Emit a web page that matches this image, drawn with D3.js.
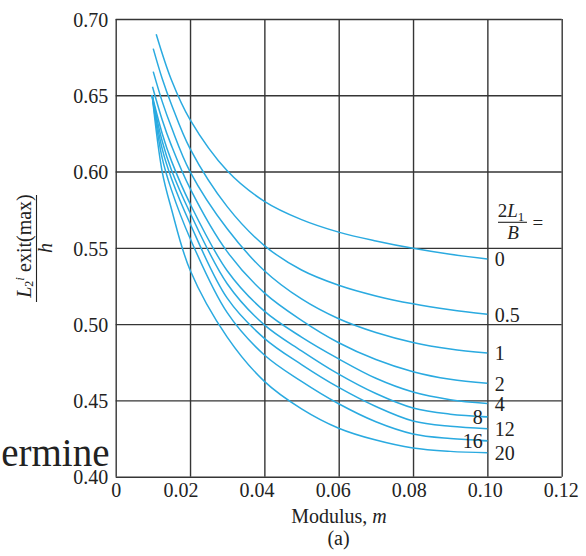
<!DOCTYPE html>
<html><head><meta charset="utf-8">
<script src="https://cdn.jsdelivr.net/npm/d3@7"></script>
<style>
body{margin:0;background:#fff}
svg{display:block}
text{font-family:"Liberation Serif","Times New Roman",serif;fill:#222}
</style>
</head><body>
<svg id="chart" width="586" height="556"></svg>
<script>
// ---- data ----
const xTicks = [0, 0.02, 0.04, 0.06, 0.08, 0.10, 0.12];
const yTicks = [0.40, 0.45, 0.50, 0.55, 0.60, 0.65, 0.70];
const seriesLabels = ["0", "0.5", "1", "2", "4", "8", "12", "16", "20"];
const startM = [0.0109, 0.0101, 0.0101, 0.0099, 0.0098, 0.0098, 0.0098, 0.0098, 0.0098];
const startY = [0.690, 0.6806, 0.6655, 0.6556, 0.650, 0.650, 0.650, 0.650, 0.650];
const mSteps = [0.0125, 0.015, 0.02, 0.03, 0.04, 0.05, 0.06, 0.07, 0.08, 0.09, 0.10];
const vals0  = [null,  0.660,  0.634,  0.6005, 0.5805, 0.5685, 0.5603, 0.5545, 0.5497, 0.5458, 0.5427];
const vals05 = [0.661, 0.644,  0.615,  0.577,  0.5515, 0.5355, 0.5255, 0.5185, 0.5133, 0.5094, 0.5064];
const vals1  = [0.646, 0.629,  0.600,  0.5625, 0.535,  0.5165, 0.5035, 0.4945, 0.4880, 0.4837, 0.481];
const vals2  = [0.634, 0.617,  0.589,  0.5475, 0.5205, 0.5025, 0.4878, 0.4768, 0.4688, 0.4638, 0.4612];
const vals4  = [0.625, 0.607,  0.579,  0.535,  0.5085, 0.4915, 0.4772, 0.4645, 0.4555, 0.4505, 0.448];
const vals8  = [0.620, 0.601,  0.573,  0.5265, 0.4995, 0.4825, 0.4672, 0.4545, 0.4450, 0.4410, 0.4393];
const vals12 = [0.615, 0.5955, 0.566,  0.517,  0.4907, 0.4735, 0.4585, 0.4460, 0.4365, 0.4330, 0.4315];
const vals16 = [0.609, 0.588,  0.5563, 0.5075, 0.4798, 0.4625, 0.4478, 0.4360, 0.4280, 0.4250, 0.4236];
const vals20 = [0.600, 0.5755, 0.5355, 0.4915, 0.4625, 0.4445, 0.4318, 0.4240, 0.4188, 0.4166, 0.4157];
const seriesVals = [vals0, vals05, vals1, vals2, vals4, vals8, vals12, vals16, vals20];
const leftLabelled = ["8", "16"];

// ---- layout ----
const L = 115.7, R = 561.7, T = 19, B = 476.7;
const FONT = 20;
const svg = d3.select("#chart");
const x = d3.scaleLinear().domain([0, 0.12]).range([L, R]);
const y = d3.scaleLinear().domain([0.40, 0.70]).range([B, T]);

// grid
const gx = svg.append("g").attr("transform", `translate(0,${B})`)
  .call(d3.axisBottom(x).tickValues(xTicks).tickSize(-(B - T)).tickFormat(""));
const gy = svg.append("g").attr("transform", `translate(${L},0)`)
  .call(d3.axisLeft(y).tickValues(yTicks).tickSize(-(R - L)).tickFormat(""));
[gx, gy].forEach(g => {
  g.select(".domain").remove();
  g.selectAll("line").attr("stroke", "#353535").attr("stroke-width", 1.4);
});

// tick labels
const xl = svg.append("g").attr("transform", `translate(0,${B})`)
  .call(d3.axisBottom(x).tickValues(xTicks).tickSize(0).tickPadding(5.8)
    .tickFormat(d => d === 0 ? "0" : d3.format(".2f")(d)));
xl.select(".domain").remove();
xl.selectAll("text").attr("font-size", FONT).attr("font-family", null).attr("fill", "#2a2a2a")
  .attr("dx", d => d === 0 ? 0 : -0.9 - (0.12 - d) / 0.10 * 8.6);

const yl = svg.append("g").attr("transform", `translate(${L},0)`)
  .call(d3.axisLeft(y).tickValues(yTicks).tickSize(0).tickPadding(7.4)
    .tickFormat(d3.format(".2f")));
yl.select(".domain").remove();
yl.selectAll("text").attr("font-size", FONT).attr("font-family", null).attr("fill", "#2a2a2a")
  .attr("dy", "0.36em");

// curves
const line = d3.line().x(d => x(d[0])).y(d => y(d[1])).curve(d3.curveCatmullRom.alpha(0.5));
const curveColor = "#2aaae0";
seriesLabels.forEach((lab, i) => {
  const pts = [[startM[i], startY[i]]];
  mSteps.forEach((m, j) => {
    const v = seriesVals[i][j];
    if (v !== null && m > startM[i]) pts.push([m, v]);
  });
  svg.append("path").datum(pts).attr("d", line)
    .attr("fill", "none").attr("stroke", curveColor).attr("stroke-width", 1.5);
  const endV = seriesVals[i][seriesVals[i].length - 1];
  const ex = x(0.10), ey = y(endV);
  if (leftLabelled.includes(lab)) {
    svg.append("line").attr("x1", ex - 5).attr("x2", ex).attr("y1", ey).attr("y2", ey)
      .attr("stroke", curveColor).attr("stroke-width", 1.5);
    svg.append("text").attr("x", ex - 4.5).attr("y", ey).attr("dy", "0.36em")
      .attr("text-anchor", "end").attr("font-size", FONT).text(lab);
  } else {
    svg.append("text").attr("x", ex + 7.5).attr("y", ey).attr("dy", "0.36em")
      .attr("font-size", FONT).text(lab);
  }
});

// legend title 2L1/B =
const lx = x(0.10) + 25.6, lyBar = 222.3;
const num = svg.append("text").attr("x", lx - 2).attr("y", lyBar - 5.5)
  .attr("text-anchor", "middle").attr("font-size", 19);
num.append("tspan").text("2");
num.append("tspan").attr("font-style", "italic").text("L");
num.append("tspan").attr("font-size", 13).attr("dy", 4).text("1");
svg.append("line").attr("x1", lx - 15).attr("x2", lx + 14).attr("y1", lyBar).attr("y2", lyBar)
  .attr("stroke", "#222").attr("stroke-width", 1.1);
svg.append("text").attr("x", lx).attr("y", lyBar + 16.3).attr("text-anchor", "middle")
  .attr("font-size", 19).attr("font-style", "italic").text("B");
svg.append("text").attr("x", lx + 19.5).attr("y", lyBar + 6.5).attr("font-size", 19).text("=");

// x-axis title
const xt = svg.append("text").attr("x", 339).attr("y", 523).attr("text-anchor", "middle").attr("font-size", FONT);
xt.append("tspan").text("Modulus, ");
xt.append("tspan").attr("font-style", "italic").text("m");
svg.append("text").attr("x", 338.5).attr("y", 545).attr("text-anchor", "middle").attr("font-size", FONT).text("(a)");

// y-axis title (rotated fraction)
const yt = svg.append("g").attr("transform", "translate(36.5,248) rotate(-90)");
const ynum = yt.append("text").attr("x", 2).attr("y", -6).attr("text-anchor", "middle").attr("font-size", FONT);
ynum.append("tspan").attr("font-style", "italic").text("L");
ynum.append("tspan").attr("font-size", 12).attr("dy", 2).text("2");
ynum.append("tspan").attr("font-size", 13).attr("font-style", "italic").attr("dy", -9).text("i");
ynum.append("tspan").attr("dy", 7).text(" exit(max)");
yt.append("line").attr("x1", -54).attr("x2", 53).attr("y1", 0).attr("y2", 0)
  .attr("stroke", "#222").attr("stroke-width", 1.1);
yt.append("text").attr("x", 0).attr("y", 15.5).attr("text-anchor", "middle")
  .attr("font-size", FONT).attr("font-style", "italic").text("h");

// stray background text fragment from the source page
svg.append("text").attr("x", 109.5).attr("y", 466).attr("text-anchor", "end")
  .attr("font-size", 39).attr("fill", "#111").text("ermine");
</script>
</body></html>
